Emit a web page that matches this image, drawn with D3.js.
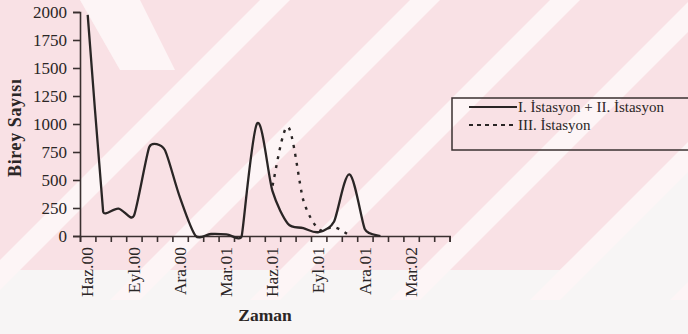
<!DOCTYPE html>
<html>
<head>
<meta charset="utf-8">
<script src="https://cdn.jsdelivr.net/npm/d3@7"></script>
<style>
  html, body { margin: 0; padding: 0; background: #f7f5f5; }
  svg { display: block; }
  text { font-family: "Liberation Serif", "Times New Roman", serif; fill: #2b2626; }
</style>
</head>
<body>
<script>
// ---- data ----
const months = ["Haz.00","Tem.00","Ağu.00","Eyl.00","Eki.00","Kas.00","Ara.00","Oca.01",
  "Şub.01","Mar.01","Nis.01","May.01","Haz.01","Tem.01","Ağu.01","Eyl.01","Eki.01","Kas.01",
  "Ara.01","Oca.02","Şub.02","Mar.02","Nis.02","May.02"];
const tickLabels = ["Haz.00","Eyl.00","Ara.00","Mar.01","Haz.01","Eyl.01","Ara.01","Mar.02"];
const yTicks = [0,250,500,750,1000,1250,1500,1750,2000];
const station12 = [1975,220,245,180,795,770,340,3,18,15,0,1005,400,110,70,35,130,550,60,0,
  null,null,null,null];
const station3 = [null,null,null,null,null,null,null,null,null,null,null,null,
  450,975,320,60,80,5,null,null,null,null,null,null];
const seriesNames = ["I. İstasyon + II. İstasyon", "III.  İstasyon"];

// ---- smoothed-line curve (Bezier, capped Catmull-Rom tangents) ----
function SmoothCurve(context) { this._context = context; }
SmoothCurve.prototype = {
  areaStart() {}, areaEnd() {},
  lineStart() { this._pts = []; },
  point(x, y) { this._pts.push([+x, +y]); },
  lineEnd() {
    const p = this._pts, n = p.length, ctx = this._context;
    if (!n) return;
    ctx.moveTo(p[0][0], p[0][1]);
    if (n === 1) return;
    const c = 0.4;
    const dist = (a, b) => Math.hypot(b[0] - a[0], b[1] - a[1]);
    const off = p.map((pi, i) => {
      const a = p[i - 1] || pi, b = p[i + 1] || pi;
      let tx = (b[0] - a[0]) / 6, ty = (b[1] - a[1]) / 6;
      const ds = [dist(a, pi), dist(pi, b)].filter(d => d > 0);
      const m = Math.min(...ds), len = Math.hypot(tx, ty);
      const s = len > c * m ? (c * m) / len : 1;
      return [tx * s, ty * s];
    });
    for (let i = 0; i < n - 1; i++) {
      ctx.bezierCurveTo(p[i][0] + off[i][0], p[i][1] + off[i][1],
        p[i + 1][0] - off[i + 1][0], p[i + 1][1] - off[i + 1][1],
        p[i + 1][0], p[i + 1][1]);
    }
  }
};
const curveSmooth = ctx => new SmoothCurve(ctx);

// ---- layout ----
const W = 688, H = 334;
const svg = d3.select("body").append("svg").attr("width", W).attr("height", H);

// watermark-like background
const bg = svg.append("g");
bg.append("rect").attr("x",0).attr("y",0).attr("width",W).attr("height",H).attr("fill","#f7f5f5");
bg.append("polygon").attr("points","0,0 688,0 688,150 560,270 0,270").attr("fill","#f9e1e5");
[-40, 110, 250, 390, 530, 670].forEach(x0 => {
  bg.append("polygon")
    .attr("points", `${x0},300 ${x0+30},300 ${x0+330},0 ${x0+300},0`)
    .attr("fill", "#fdf5f6");
});
bg.append("polygon").attr("points", "80,0 140,0 175,70 120,70").attr("fill", "#fdf5f6");

const x = d3.scaleBand().domain(months).range([80, 449.6]).padding(0);
const xb = d3.scaleLinear().domain([0, months.length]).range([80, 449.6]);
const y = d3.scaleLinear().domain([0, 2000]).range([236, 12]);
const cx = m => x(m) + x.bandwidth() / 2;
const FONT = "'Liberation Serif', 'Times New Roman', serif";

// y axis
const gy = svg.append("g").attr("transform", "translate(80,0)")
  .call(d3.axisLeft(y).tickValues(yTicks).tickSize(7).tickPadding(6).tickFormat(d3.format("d")))
  .attr("font-family", FONT).attr("font-size", 17);
gy.select(".domain").attr("stroke", "#3a3030").attr("stroke-width", 1.6);
gy.selectAll(".tick line").attr("stroke", "#3a3030").attr("stroke-width", 1.6);
gy.selectAll(".tick text").attr("fill", "#2b2626");

// x axis ticks (category boundaries)
const gx = svg.append("g").attr("transform", "translate(0,236)")
  .call(d3.axisBottom(xb).tickValues(d3.range(0, months.length + 1)).tickSize(6).tickFormat(""));
gx.select(".domain").attr("stroke", "#3a3030").attr("stroke-width", 1.6);
gx.selectAll(".tick line").attr("stroke", "#3a3030").attr("stroke-width", 1.6);

// x labels
const gl = svg.append("g").attr("transform", "translate(0,236)")
  .call(d3.axisBottom(x).tickValues(tickLabels).tickSize(0).tickPadding(0))
  .attr("font-family", FONT).attr("font-size", 17.5);
gl.select(".domain").remove();
gl.selectAll(".tick text")
  .attr("fill", "#2b2626")
  .attr("text-anchor", "end")
  .attr("transform", "translate(0,11) rotate(-90)")
  .attr("x", 0).attr("y", 0).attr("dy", "0.32em");

// lines
const line = d3.line()
  .defined(d => d.v != null)
  .x(d => cx(d.m)).y(d => y(d.v))
  .curve(curveSmooth);

const d12 = months.map((m, i) => ({ m, v: station12[i] }));
const d3s = months.map((m, i) => ({ m, v: station3[i] }));

svg.append("path").datum(d12).attr("d", line)
  .attr("fill", "none").attr("stroke", "#2a2525").attr("stroke-width", 2.3).attr("stroke-linejoin", "round");
svg.append("path").datum(d3s).attr("d", line)
  .attr("fill", "none").attr("stroke", "#2a2525").attr("stroke-width", 2.4)
  .attr("stroke-dasharray", "3,6");

// axis titles
svg.append("text").attr("x", 265).attr("y", 321).attr("text-anchor", "middle")
  .attr("font-family", FONT).style("font-size", "17.5px").style("font-weight", "bold").text("Zaman");
svg.append("text").attr("transform", "translate(21,128) rotate(-90)").attr("text-anchor", "middle")
  .attr("font-family", FONT).style("font-size", "18px").style("font-weight", "bold")
  .attr("textLength", 98).attr("lengthAdjust", "spacing").text("Birey Sayısı");

// legend
const lg = svg.append("g").attr("font-family", FONT);
lg.append("rect").attr("x", 452).attr("y", 98).attr("width", 250).attr("height", 52)
  .attr("fill", "none").attr("stroke", "#3a3030").attr("stroke-width", 1.5);
lg.append("line").attr("x1", 469).attr("x2", 517).attr("y1", 107).attr("y2", 107)
  .attr("stroke", "#2a2525").attr("stroke-width", 1.8);
lg.append("line").attr("x1", 469).attr("x2", 517).attr("y1", 125).attr("y2", 125)
  .attr("stroke", "#2a2525").attr("stroke-width", 1.8).attr("stroke-dasharray", "4,4");
lg.append("text").attr("x", 518).attr("y", 112).style("font-size", "15px").text(seriesNames[0]);
lg.append("text").attr("x", 518).attr("y", 130).style("font-size", "15px").text(seriesNames[1]);
</script>
</body>
</html>
